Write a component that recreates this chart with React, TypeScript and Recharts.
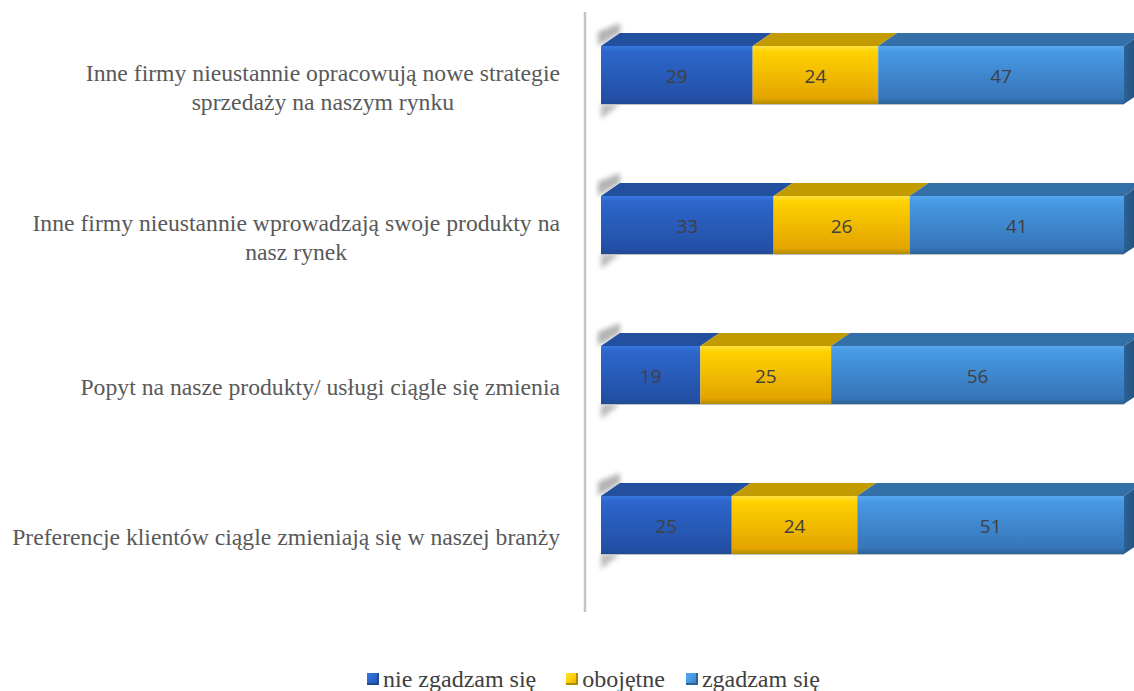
import React from 'react';
import { BarChart, Bar, XAxis, YAxis, LabelList } from 'recharts';

// categories (\n marks where the original label wraps)
const categories = [
  'Inne firmy nieustannie opracowują nowe strategie\nsprzedaży na naszym rynku',
  'Inne firmy nieustannie wprowadzają swoje produkty na\nnasz rynek',
  'Popyt na nasze produkty/ usługi ciągle się zmienia',
  'Preferencje klientów ciągle zmieniają się w naszej branży',
];
const disagree = [29, 33, 19, 25];
const neutral = [24, 26, 25, 24];
const agree = [47, 41, 56, 51];
const seriesNames = ['nie zgadzam się', 'obojętne', 'zgadzam się'];

const chartData = categories.map((category, i) => ({
  category,
  disagree: disagree[i],
  neutral: neutral[i],
  agree: agree[i],
}));

const SERIF = 'Liberation Serif';
const TICK_SIZE = 23.7;

// 3D look
const DEPTH_X = 19;
const DEPTH_Y = 13;
const SHIFT_X = 16;
const SHIFT_Y = -12;

const series = [
  { key: 'disagree', name: seriesNames[0], front: ['#3778E0', '#2D66CC', '#2350A6'], top: '#22509E', side: ['#1F4B94', '#173A75'] },
  { key: 'neutral', name: seriesNames[1], front: ['#FFE040', '#FFD100', '#E3A400'], top: '#C29B00', side: ['#B08C00', '#8C6E00'] },
  { key: 'agree', name: seriesNames[2], front: ['#58A8F0', '#4799E4', '#3675B8'], top: '#3470A8', side: ['#2C6296', '#1C456E'] },
];

let measureCtx: CanvasRenderingContext2D | null = null;
const textWidth = (s: string) => {
  if (!measureCtx) measureCtx = document.createElement('canvas').getContext('2d');
  if (!measureCtx) return s.length * 10;
  measureCtx.font = `${TICK_SIZE}px "${SERIF}"`;
  return measureCtx.measureText(s).width;
};

const makeShape = (si: number) => (props: any) => {
  const { x, y, width, height } = props;
  const s = series[si];
  const fx = x + SHIFT_X;
  const fy = y + SHIFT_Y;
  const xr = fx + width;
  const yb = fy + height;
  return (
    <g>
      {si === 0 && (
        <g filter="url(#wallBlur)" opacity={0.6}>
          <polygon
            points={`${fx - 3},${fy} ${fx - 3},${fy - 14} ${fx + DEPTH_X},${fy - DEPTH_Y - 10} ${fx + DEPTH_X},${fy - DEPTH_Y}`}
            fill="#808080"
          />
          <polygon
            points={`${fx},${yb} ${fx + DEPTH_X},${yb} ${fx},${yb + 15}`}
            fill="#909090"
          />
        </g>
      )}
      <polygon
        points={`${fx},${fy} ${fx + DEPTH_X},${fy - DEPTH_Y} ${xr + DEPTH_X},${fy - DEPTH_Y} ${xr},${fy}`}
        fill={s.top}
      />
      <rect x={fx} y={fy} width={width} height={height} fill={`url(#front-${s.key})`} />
      <line x1={fx} x2={xr} y1={yb + 0.5} y2={yb + 0.5} stroke="#bfbfbf" strokeWidth={1} />
      {si === series.length - 1 && (
        <polygon
          points={`${xr},${fy} ${xr + DEPTH_X},${fy - DEPTH_Y} ${xr + DEPTH_X},${yb - DEPTH_Y} ${xr},${yb}`}
          fill={`url(#side-${s.key})`}
        />
      )}
    </g>
  );
};

const ValueLabel = (props: any) => {
  const { x, y, width, height, value } = props;
  return (
    <text
      x={x + SHIFT_X + width / 2}
      y={y + SHIFT_Y + height / 2 + 1}
      textAnchor="middle"
      dominantBaseline="central"
      fontFamily="Open Sans"
      fontSize={19}
      fill="#404040"
    >
      {value}
    </text>
  );
};

const CategoryTick = (props: any) => {
  const { x, y, payload } = props;
  const lines: string[] = String(payload.value).split('\n');
  const lh = 29;
  const startY = y - ((lines.length - 1) * lh) / 2;
  // wrapped lines are centred under the first (right-aligned) line
  const centre = x - textWidth(lines[0]) / 2;
  return (
    <g>
      {lines.map((line, i) => (
        <text
          key={i}
          x={i === 0 ? x : centre}
          y={startY + i * lh}
          textAnchor={i === 0 ? 'end' : 'middle'}
          dominantBaseline="central"
          fontFamily={SERIF}
          fontSize={TICK_SIZE}
          fill="#595959"
        >
          {line}
        </text>
      ))}
    </g>
  );
};

const legendGaps = [0, 30, 21];

const ChartLegend = () => (
  <div
    style={{
      position: 'absolute',
      left: 367,
      top: 665,
      display: 'flex',
      fontFamily: SERIF,
      fontSize: 24,
      lineHeight: '28px',
      color: '#404040',
      whiteSpace: 'nowrap',
    }}
  >
    {series.map((s, i) => (
      <div key={s.key} style={{ display: 'flex', alignItems: 'center', marginLeft: legendGaps[i] }}>
        <span
          style={{
            display: 'inline-block',
            width: 12,
            height: 12,
            marginRight: 4,
            background: `linear-gradient(135deg, ${s.front[0]} 0%, ${s.front[1]} 45%, ${s.front[2]} 100%)`,
            boxShadow: `inset -2px -2px 0 ${s.side[0]}`,
          }}
        />
        <span>{s.name}</span>
      </div>
    ))}
  </div>
);

export default function App() {
  return (
    <div style={{ position: 'absolute', left: 0, top: 0, width: 1134, height: 691, background: '#fff' }}>
      <BarChart
        width={1134}
        height={691}
        data={chartData}
        layout="vertical"
        barSize={58}
        margin={{ top: 12, right: 26, bottom: 79, left: 0 }}
      >
        <defs>
          <filter id="wallBlur" x="-50%" y="-50%" width="200%" height="200%">
            <feGaussianBlur stdDeviation="2.5" />
          </filter>
          {series.map((s) => (
            <linearGradient key={`f-${s.key}`} id={`front-${s.key}`} x1="0" y1="0" x2="0" y2="1">
              <stop offset="0" stopColor={s.front[0]} />
              <stop offset="0.1" stopColor={s.front[1]} />
              <stop offset="0.9" stopColor={s.front[2]} />
              <stop offset="1" stopColor={s.side[0]} />
            </linearGradient>
          ))}
          {series.map((s) => (
            <linearGradient key={`s-${s.key}`} id={`side-${s.key}`} x1="0" y1="0" x2="1" y2="0">
              <stop offset="0" stopColor={s.side[0]} />
              <stop offset="1" stopColor={s.side[1]} />
            </linearGradient>
          ))}
        </defs>
        <XAxis type="number" domain={[0, 100]} hide />
        <YAxis
          type="category"
          dataKey="category"
          width={585}
          axisLine={{ stroke: '#c4c4c4', strokeWidth: 2.5 }}
          tickLine={false}
          tickSize={6}
          tickMargin={19}
          tick={<CategoryTick />}
          interval={0}
        />
        {series.map((s, si) => (
          <Bar
            key={s.key}
            dataKey={s.key}
            name={s.name}
            stackId="a"
            fill={s.front[1]}
            shape={makeShape(si)}
            isAnimationActive={false}
          >
            <LabelList dataKey={s.key} content={<ValueLabel />} />
          </Bar>
        ))}
      </BarChart>
      <ChartLegend />
    </div>
  );
}
